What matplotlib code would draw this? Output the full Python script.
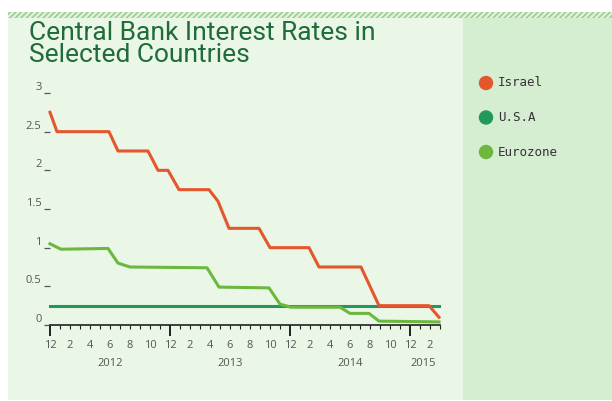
import matplotlib.pyplot as plt
from matplotlib.patches import Rectangle, Circle

# months counted from Dec 2011 (0) to Mar 2015 (39)
israel_x = [0, 0.7, 5.9, 6.8, 9.8, 10.8, 11.8, 12.9, 15.9, 16.8, 17.9, 20.9, 22.0,
            25.9, 26.9, 31.1, 32.9, 37.9, 38.9]
israel_y = [2.75, 2.5, 2.5, 2.25, 2.25, 2.0, 2.0, 1.75, 1.75, 1.6, 1.25, 1.25, 1.0,
            1.0, 0.75, 0.75, 0.25, 0.25, 0.1]

usa_x = [0, 38.9]
usa_y = [0.25, 0.25]

euro_x = [0, 1.1, 5.8, 6.8, 8.0, 15.7, 16.9, 21.9, 23.0, 24.1, 29.0, 30.0, 31.9,
          32.9, 38.9]
euro_y = [1.05, 0.98, 0.99, 0.80, 0.75, 0.74, 0.49, 0.48, 0.27, 0.23, 0.23, 0.15,
          0.15, 0.05, 0.04]

month_ticks = list(range(0, 39, 2))
month_labels = ['12', '2', '4', '6', '8', '10'] * 3 + ['12', '2']
year_pos = [6, 18, 30, 37.3]
year_labels = ['2012', '2013', '2014', '2015']
y_ticks = [0, 0.5, 1, 1.5, 2, 2.5, 3]
y_labels = ['0', '0.5', '1', '1.5', '2', '2.5', '3']

series = [('Israel', '#e4572e'), ('U.S.A', '#22995a'), ('Eurozone', '#6cb83f')]

W, H = 612, 401
fig = plt.figure(figsize=(W / 100, H / 100), dpi=100)
fig.patch.set_facecolor('white')

def px(x0, y0, x1, y1):
    # pixel box (top-left origin) -> figure fraction
    return (x0 / W, 1 - y1 / H, (x1 - x0) / W, (y1 - y0) / H)

# background layer in pixel coordinates
bg = fig.add_axes([0, 0, 1, 1], zorder=-1)
bg.set_xlim(0, W)
bg.set_ylim(H, 0)
bg.axis('off')

plt.rcParams['hatch.linewidth'] = 1.0
bg.add_patch(Rectangle((8, 18), 455, 382, facecolor='#eaf6e6', edgecolor='none'))
bg.add_patch(Rectangle((463, 18), 149, 382, facecolor='#d5edd1', edgecolor='none'))
bg.add_patch(Rectangle((8, 12), 604, 6, facecolor='#dff0da', edgecolor='#8fcc85',
                       hatch='//////', linewidth=0))

bg.text(29, 21, 'Central Bank Interest Rates in\nSelected Countries',
        family='Roboto', fontsize=19, color='#1f6b3a', ha='left', va='top',
        linespacing=0.88)

# legend on the right panel
for i, (name, col) in enumerate(series):
    yy = 83 + 34.5 * i
    bg.add_patch(Circle((486, yy), 6.5, color=col))
    bg.text(498, yy, name, family='DejaVu Sans Mono', fontsize=9,
            color='#333333', ha='left', va='center')

ax = fig.add_axes(px(50, 93, 440, 325))
ax.set_facecolor('none')
ax.plot(israel_x, israel_y, color=series[0][1], lw=2.2, clip_on=False, zorder=3)
ax.plot(usa_x, usa_y, color=series[1][1], lw=2.2, clip_on=False, zorder=2)
ax.plot(euro_x, euro_y, color=series[2][1], lw=2.2, clip_on=False, zorder=2)

ax.set_xlim(0, 39)
ax.set_ylim(0, 3)
for s in ['top', 'right', 'left']:
    ax.spines[s].set_visible(False)
ax.spines['bottom'].set_color('#222222')
ax.spines['bottom'].set_linewidth(1.2)

ax.set_xticks([0, 12, 24, 36])
ax.set_xticks(range(0, 40), minor=True)
ax.tick_params(axis='x', which='major', length=8, width=1.4, color='#222222',
               labelbottom=False)
ax.tick_params(axis='x', which='minor', length=3, width=0.8, color='#222222')

ax.set_yticks(y_ticks, y_labels)
ax.tick_params(axis='y', length=4, width=0.9, color='#555555', pad=2,
               labelsize=8, labelcolor='#555555')
for lab in ax.get_yticklabels():
    lab.set_va('bottom')
    lab.set_family('Open Sans')

tf = ax.get_xaxis_transform()
for m, lab in zip(month_ticks, month_labels):
    ax.annotate(lab, (m, 0), xycoords=tf, xytext=(0, -20 * 0.72),
                textcoords='offset points', ha='center', va='center',
                family='Open Sans', fontsize=8, color='#555555')
for m, lab in zip(year_pos, year_labels):
    ax.annotate(lab, (m, 0), xycoords=tf, xytext=(0, -39 * 0.72),
                textcoords='offset points', ha='center', va='center',
                family='Open Sans', fontsize=8, color='#555555')

fig.savefig('out.png', dpi=100)
